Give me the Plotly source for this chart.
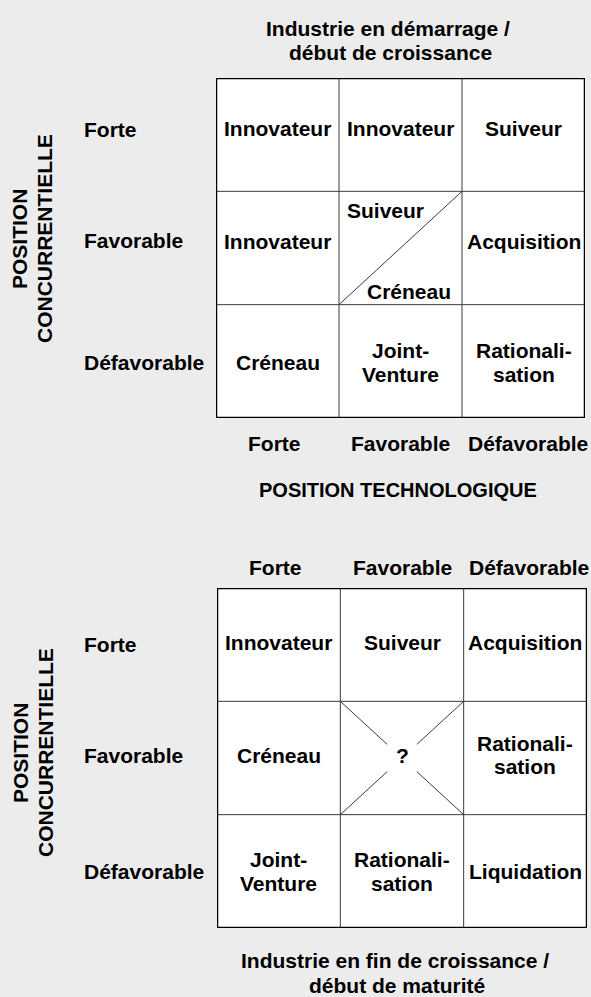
import plotly.graph_objects as go

W, H = 591, 997

# ---- data ----
levels = ["Forte", "Favorable", "Défavorable"]
axis_title_v = ["POSITION", "CONCURRENTIELLE"]
axis_title_h = "POSITION TECHNOLOGIQUE"
top_title = ["Industrie en démarrage /", "début de croissance"]
bottom_title = ["Industrie en fin de croissance /", "début de maturité"]

top_cells = [
    [["Innovateur"], ["Innovateur"], ["Suiveur"]],
    [["Innovateur"], [], ["Acquisition"]],
    [["Créneau"], ["Joint-", "Venture"], ["Rationali-", "sation"]],
]
top_split_upper = "Suiveur"
top_split_lower = "Créneau"

bottom_cells = [
    [["Innovateur"], ["Suiveur"], ["Acquisition"]],
    [["Créneau"], ["?"], ["Rationali-", "sation"]],
    [["Joint-", "Venture"], ["Rationali-", "sation"], ["Liquidation"]],
]

# ---- style ----
FONT = "Liberation Sans, Arial, Helvetica, sans-serif"
FS = 21
BG = "#ececec"


def py(px):
    return 1 - px / H


def px_x(px):
    return px / W


fig = go.Figure()
fig.add_trace(go.Scatter(x=[0, 3], y=[0, 3], mode="markers", marker=dict(opacity=0),
                         hoverinfo="skip", showlegend=False, xaxis="x", yaxis="y"))
fig.add_trace(go.Scatter(x=[0, 3], y=[0, 3], mode="markers", marker=dict(opacity=0),
                         hoverinfo="skip", showlegend=False, xaxis="x2", yaxis="y2"))

ax_common = dict(range=[0, 3], showgrid=False, zeroline=False, showticklabels=False,
                 ticks="", showline=False, fixedrange=True)
fig.update_layout(
    width=W, height=H,
    margin=dict(l=0, r=0, t=0, b=0),
    paper_bgcolor=BG, plot_bgcolor="white",
    showlegend=False,
    xaxis=dict(domain=[px_x(216), px_x(585)], anchor="y", **ax_common),
    yaxis=dict(domain=[py(418), py(78)], anchor="x", **{**ax_common, "range": [3, 0]}),
    xaxis2=dict(domain=[px_x(217), px_x(587)], anchor="y2", **ax_common),
    yaxis2=dict(domain=[py(928), py(588)], anchor="x2", **{**ax_common, "range": [3, 0]}),
    font=dict(family=FONT, size=FS, color="black"),
)

shapes = []
annos = []


def grid(xr, yr):
    for k in (1, 2):
        shapes.append(dict(type="line", xref=xr, yref=yr, x0=k, x1=k, y0=0, y1=3,
                           line=dict(color="#3a3a3a", width=1)))
        shapes.append(dict(type="line", xref=xr, yref=yr, x0=0, x1=3, y0=k, y1=k,
                           line=dict(color="#3a3a3a", width=1)))
    shapes.append(dict(type="rect", xref=xr, yref=yr, x0=0, x1=3, y0=0, y1=3,
                       line=dict(color="black", width=2.5)))


def text(x, y, s, xr, yr, ys=0, xs=0, xanchor="center", size=FS, angle=0):
    annos.append(dict(x=x, y=y, xref=xr, yref=yr, text=s, showarrow=False,
                      xanchor=xanchor, yanchor="middle", yshift=ys, xshift=xs,
                      textangle=angle,
                      font=dict(family=FONT, size=size, color="black", weight="bold")))


def cells(data, xr, yr, row_shift):
    LS = 23.5
    for r, row in enumerate(data):
        for c, lines in enumerate(row):
            n = len(lines)
            for i, ln in enumerate(lines):
                off = ((n - 1) / 2 - i) * LS
                text(c + 0.5, r + 0.5, ln, xr, yr, ys=row_shift[r] + off)


# top grid
grid("x", "y")
cells(top_cells, "x", "y", [6, 7, -1])
shapes.append(dict(type="line", xref="x", yref="y", x0=1, y0=2, x1=2, y1=1,
                   line=dict(color="#3a3a3a", width=1)))
text(1.38, 1.17, top_split_upper, "x", "y")
text(1.57, 1.88, top_split_lower, "x", "y")
for r, lab in enumerate(levels):
    text(px_x(82), r + 0.5, lab, "paper", "y", ys=[5, 8, -1][r], xanchor="left")
for c, lab in enumerate(levels):
    text(c + 0.5, py(443), lab, "x", "paper", xs=[-3, 0, 4][c])
text(px_x(388), py(28), top_title[0], "paper", "paper")
text(px_x(391), py(53), top_title[1], "paper", "paper")
text(px_x(20), py(239), axis_title_v[0], "paper", "paper", angle=-90)
text(px_x(45), py(239), axis_title_v[1], "paper", "paper", angle=-90)

# middle title
text(px_x(398), py(490), axis_title_h, "paper", "paper", size=20)

# bottom grid
grid("x2", "y2")
cells(bottom_cells, "x2", "y2", [2, 3, 0])
cx, cy = 1.5, 1.5
for (qx, qy) in [(1, 1), (2, 1), (1, 2), (2, 2)]:
    t = 0.24
    shapes.append(dict(type="line", xref="x2", yref="y2", x0=qx, y0=qy,
                       x1=cx + (qx - cx) * t, y1=cy + (qy - cy) * t,
                       line=dict(color="#3a3a3a", width=1)))
for r, lab in enumerate(levels):
    text(px_x(82), r + 0.5, lab, "paper", "y2", ys=[0, 3, 0][r], xanchor="left")
for c, lab in enumerate(levels):
    text(c + 0.5, py(567), lab, "x2", "paper", xs=[-3, 0, 4][c])
text(px_x(395), py(960), bottom_title[0], "paper", "paper")
text(px_x(397), py(985), bottom_title[1], "paper", "paper")
text(px_x(20), py(753), axis_title_v[0], "paper", "paper", angle=-90)
text(px_x(45), py(753), axis_title_v[1], "paper", "paper", angle=-90)

fig.update_layout(shapes=shapes, annotations=annos)
fig.write_html(
    "out.html",
    config={"displayModeBar": False},
    post_script="document.body.style.margin='0';document.body.style.padding='0';"
                "document.body.style.overflow='hidden';"
                "document.documentElement.style.overflow='hidden';",
)
